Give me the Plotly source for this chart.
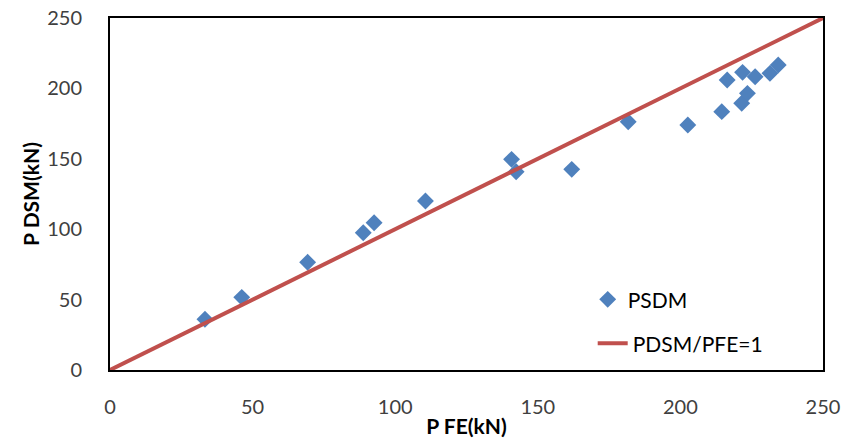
import plotly.graph_objects as go

# PSDM points (kN)
p_fe = [33.3, 46.2, 69.3, 88.8, 92.6, 110.6, 140.8, 142.4, 161.9, 181.7,
        202.6, 214.5, 216.4, 221.8, 226.2, 221.5, 223.5, 231.4, 234.3]
p_dsm = [36.0, 51.6, 76.5, 97.5, 104.6, 120.0, 149.6, 140.8, 142.5, 176.3,
         174.0, 183.5, 206.0, 211.4, 208.3, 189.4, 196.5, 210.7, 216.6]

# reference line PDSM/PFE = 1
ref_x = [0, 250]
ref_y = [0, 250]

tick_vals = [0, 50, 100, 150, 200, 250]

font_family = "Lato, 'Open Sans', sans-serif"

fig = go.Figure()

fig.add_trace(go.Scatter(x=p_fe, y=p_dsm, mode='markers', name='PSDM', legend='legend',
                         showlegend=True,
                         marker=dict(symbol='diamond', size=13, color='#4F81BD')))

fig.add_trace(go.Scatter(x=ref_x, y=ref_y, mode='lines', name='PDSM/PFE=1', legend='legend2',
                         showlegend=True,
                         line=dict(color='#C0504D', width=4)))

axis_common = dict(range=[0, 250], tickvals=tick_vals, showgrid=False, zeroline=False,
                   showline=True, linecolor='black', linewidth=2, mirror=True, automargin=False,
                   ticks='', ticklabeloverflow='allow',
                   tickfont=dict(family=font_family, size=20, color='#404040'))

title_font = dict(family=font_family, size=21, color='black')

fig.update_xaxes(title=dict(text='<b>P FE(kN)</b>', font=title_font, standoff=2),
                 ticklabelstandoff=18, **axis_common)
fig.update_yaxes(title=dict(text='<b>P DSM(kN)</b>', font=title_font, standoff=2),
                 ticklabelstandoff=22, **axis_common)

legend_font = dict(family=font_family, size=21, color='black')

# two separate legends so the spacing between entries can match the original
fig.update_layout(
    width=845, height=448,
    margin=dict(l=110, r=22, t=18, b=78),
    plot_bgcolor='white', paper_bgcolor='white',
    showlegend=True,
    legend=dict(x=0.67, y=0.258, xanchor='left', yanchor='top',
                font=legend_font, bgcolor='rgba(0,0,0,0)'),
    legend2=dict(x=0.677, y=0.133, xanchor='left', yanchor='top',
                 font=legend_font, bgcolor='rgba(0,0,0,0)'),
)

# drop the default 8px page margin so the figure fills the window
fig.write_html("out.html", config={'displayModeBar': False},
               post_script="document.body.style.margin='0';")
